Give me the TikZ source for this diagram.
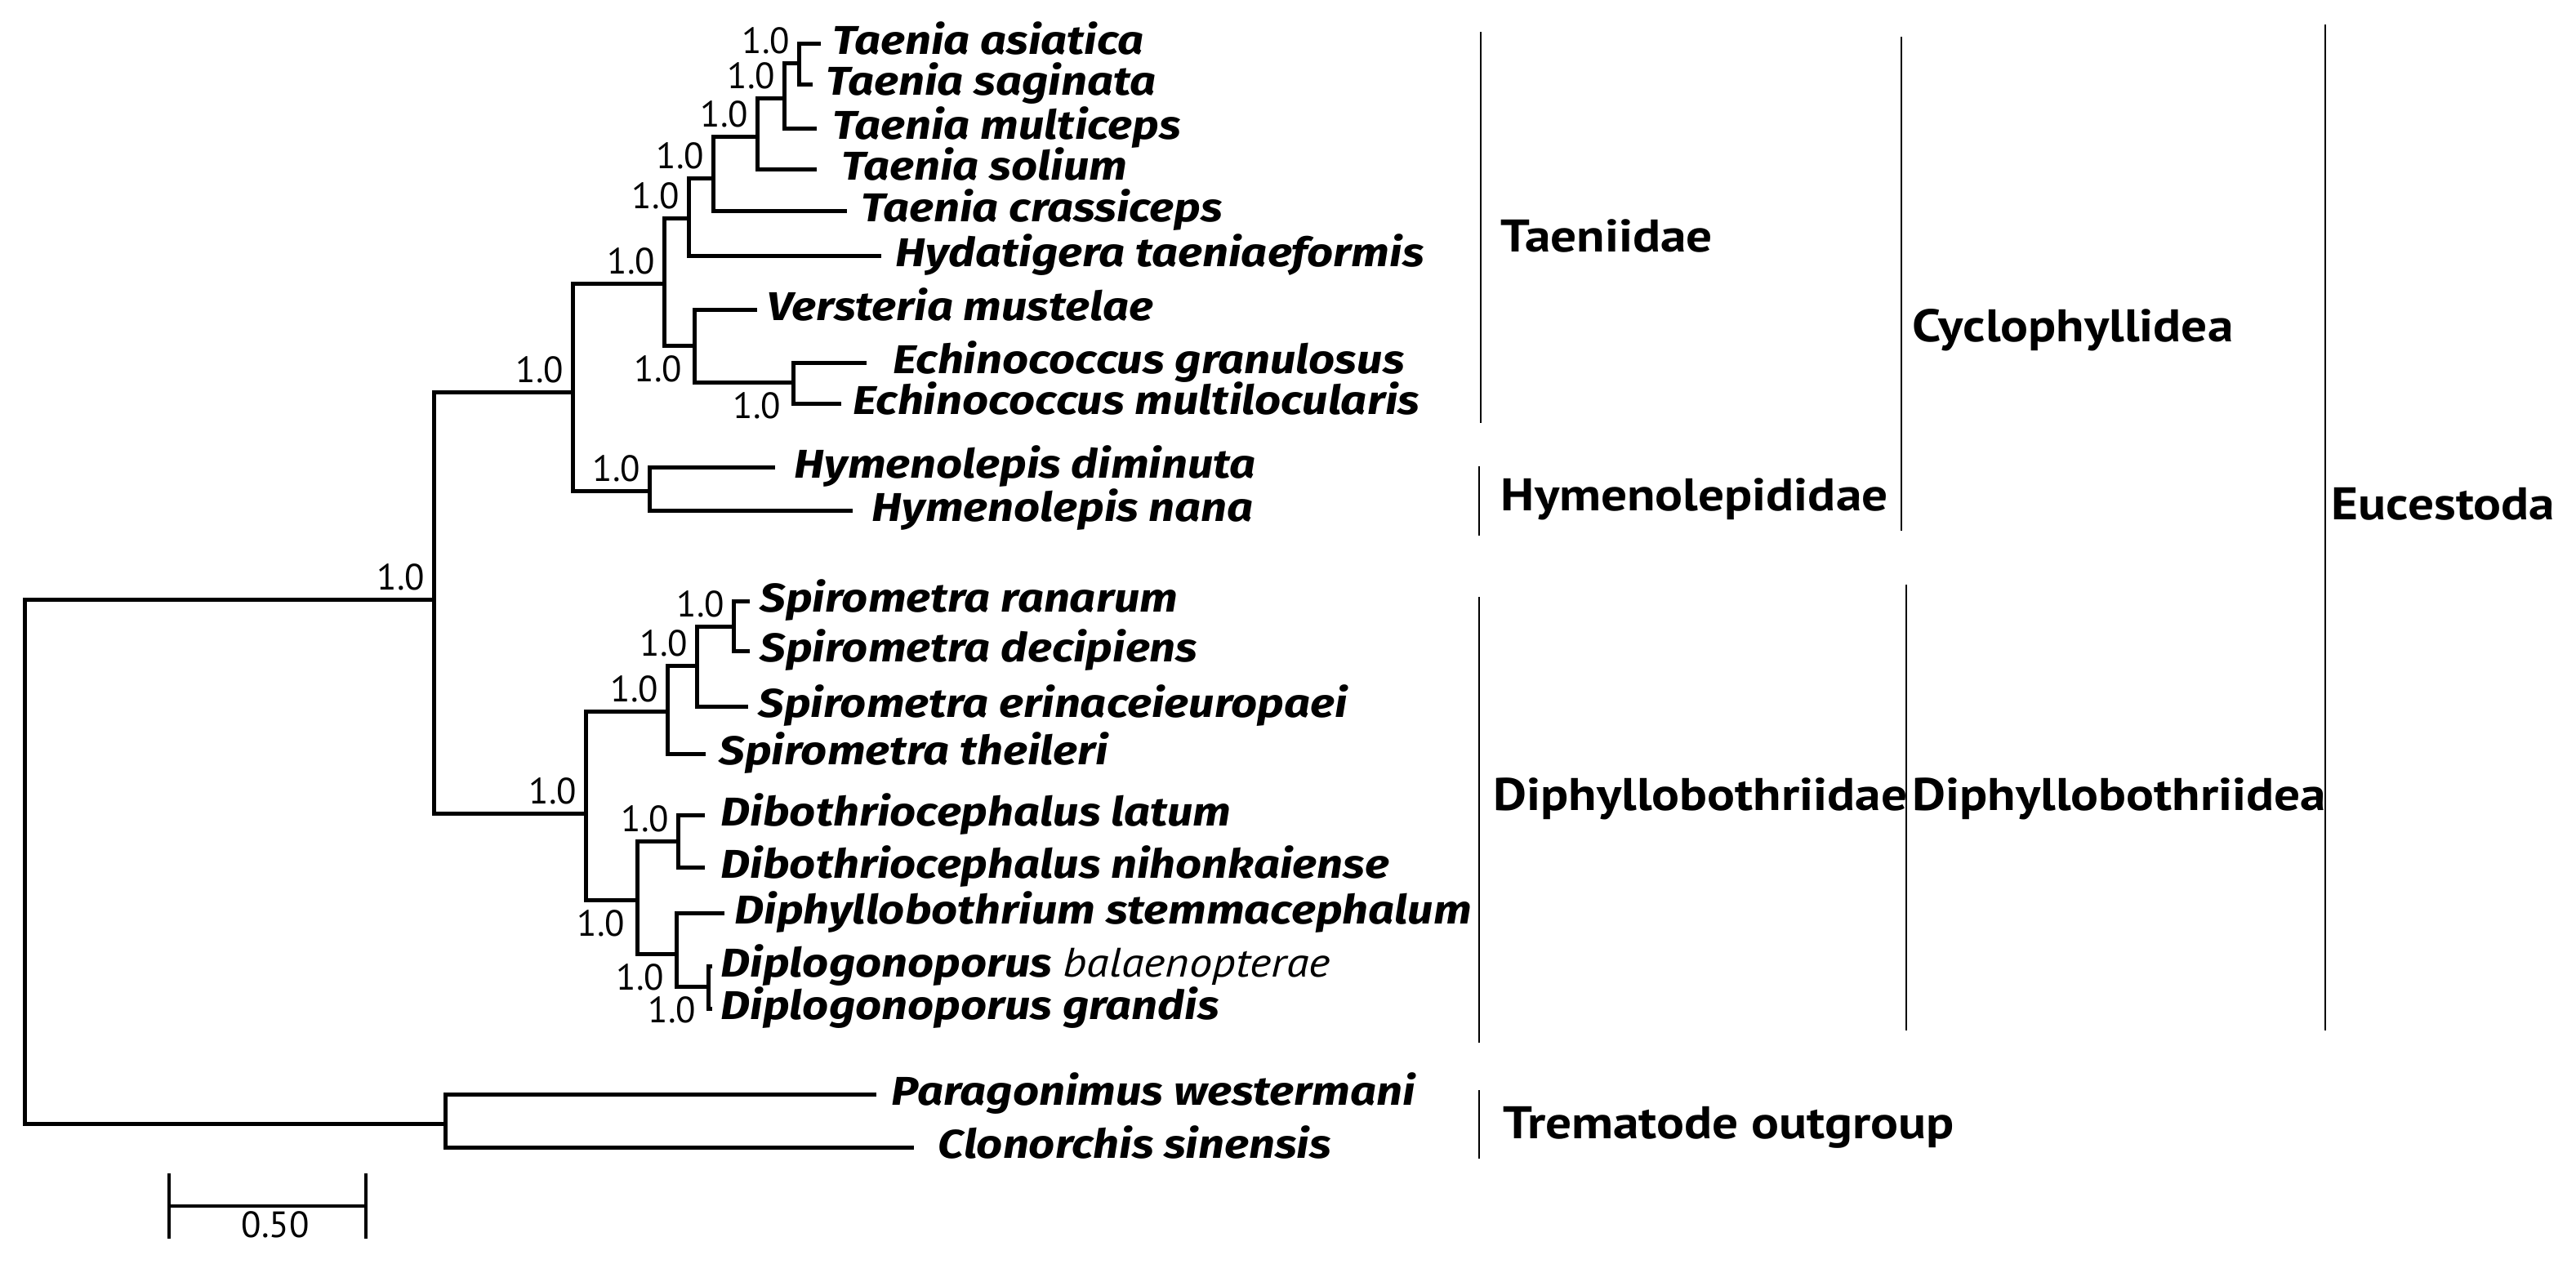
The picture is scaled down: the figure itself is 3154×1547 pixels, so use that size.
\documentclass[tikz,border=0pt]{standalone}
\usepackage{fontspec}
\setmainfont{PT Sans}
\newfontfamily\spfont[FakeStretch=1.14]{Fira Sans}
\newfontfamily\grpfont[FakeStretch=1.13]{PT Sans}
\newfontfamily\bpfont[FakeStretch=1.12]{PT Sans}
\begin{document}
\begin{tikzpicture}[x=0.25pt, y=-0.25pt, line join=miter,
		branch/.style={line width=1.25pt},
		bar/.style={line width=0.6pt},
		sp/.style={anchor=base west, inner sep=0pt, font=\spfont\bfseries\itshape\fontsize{12.3}{14}\selectfont},
		pp/.style={inner sep=0pt, font=\fontsize{11.2}{13}\selectfont},
		grp/.style={anchor=base west, inner sep=0pt, font=\grpfont\bfseries\fontsize{14}{16}\selectfont}]
	\useasboundingbox (0,0) rectangle (3154,1547);
	% leaves: tip x, y, text x, name
	\foreach \id/\tx/\ty/\lx/\name in {
		tasi/1005/53/1019/{Taenia asiatica},
		tsag/995/103/1011/{Taenia saginata},
		tmul/1000/157/1019/{Taenia multiceps},
		tsol/1000/207/1030/{Taenia solium},
		tcra/1037/258/1054/{Taenia crassiceps},
		htae/1079/313/1096/{Hydatigera taeniaeformis},
		vmus/927/379/939/{Versteria mustelae},
		egra/1061/444/1093/{Echinococcus granulosus},
		emul/1030/494/1044/{Echinococcus multilocularis},
		hdim/949/572/972/{Hymenolepis diminuta},
		hnan/1044/625/1067/{Hymenolepis nana},
		sran/918/736/930/{Spirometra ranarum},
		sdec/918/797/930/{Spirometra decipiens},
		seri/916/865/928/{Spirometra erinaceieuropaei},
		sthe/864/923/880/{Spirometra theileri},
		dlat/863/998/882/{Dibothriocephalus latum},
		dnih/863/1062/882/{Dibothriocephalus nihonkaiense},
		dste/887/1118/899/{Diphyllobothrium stemmacephalum},
		dbal/872/1183/882/{Diplogonoporus {\bpfont\mdseries\itshape\fontsize{12.6}{14}\selectfont balaenopterae}},
		dgra/872/1235/882/{Diplogonoporus grandis},
		pwes/1073/1340/1091/{Paragonimus westermani},
		csin/1119/1405/1148/{Clonorchis sinensis}}
	{
		\coordinate (\id) at (\tx,\ty);
		\node[sp] (\id-name) at (\lx,\ty+13) {\name};
	}
	% inner nodes
	\foreach \id/\nx/\ny in {root/30/1055, euc/531/734, trem/545/1376,
		cyc/701/480, tae/813/347, tah/843/267, tcr/873/218, tso/927/167,
		tmu/960/120, tas/978/77, vec/850/423, ech/971/468, hym/795/601,
		dip/717/996, spi/817/871, spe/853/815, spr/898/767,
		low/780/1102, dib/830/1030, dds/828/1168, dgp/867/1208}
		\coordinate (\id) at (\nx,\ny);
	% branches
	\foreach \p/\c in {root/euc, root/trem, euc/cyc, euc/dip,
		cyc/tae, cyc/hym, tae/tah, tae/vec, tah/tcr, tah/htae,
		tcr/tso, tcr/tcra, tso/tmu, tso/tsol, tmu/tas, tmu/tmul,
		tas/tasi, tas/tsag, vec/vmus, vec/ech, ech/egra, ech/emul,
		hym/hdim, hym/hnan, dip/spi, dip/low, spi/spe, spi/sthe,
		spe/spr, spe/seri, spr/sran, spr/sdec, low/dib, low/dds,
		dib/dlat, dib/dnih, dds/dste, dds/dgp, dgp/dbal, dgp/dgra,
		trem/pwes, trem/csin}
		\draw[branch] (\p) |- (\c);
	% support values
	\foreach \id in {euc, cyc, tae, tah, tcr, tso, tmu, tas, hym, dip, spi, spe, spr, dib}
		\node[pp, anchor=base east] (\id-pp) at ([shift={(-10,-12)}]\id) {1.0};
	\foreach \id in {vec, ech, low, dds, dgp}
		\node[pp, anchor=north east] (\id-pp) at ([shift={(-14,12)}]\id) {1.0};
	% groups
	\draw[bar] (1813,39) -- (1813,518);
	\node[grp] (taeniidae) at (1837,308) {Taeniidae};
	\draw[bar] (1811,571) -- (1811,656);
	\node[grp] (hymenolepididae) at (1837,625) {Hymenolepididae};
	\draw[bar] (1811,731) -- (1811,1277);
	\node[grp] (diphyllobothriidae) at (1828,992) {Diphyllobothriidae};
	\draw[bar] (1811,1335) -- (1811,1419);
	\node[grp] (trematoda) at (1840,1394) {Trematode outgroup};
	\draw[bar] (2328,45) -- (2328,650);
	\node[grp] (cyclophyllidea) at (2341,418) {Cyclophyllidea};
	\draw[bar] (2334,716) -- (2334,1262);
	\node[grp] (diphyllobothriidea) at (2341,992) {Diphyllobothriidea};
	\draw[bar] (2847,30) -- (2847,1262);
	\node[grp] (eucestoda) at (2854,636) {Eucestoda};
	% scale bar
	\coordinate (sbl) at (207,1477);
	\coordinate (sbr) at (448,1477);
	\draw[line width=0.8pt] (sbl) -- (sbr);
	\draw[line width=0.8pt] ([yshift=10]sbl) -- ([yshift=-10]sbl);
	\draw[line width=0.8pt] ([yshift=10]sbr) -- ([yshift=-10]sbr);
	\node[pp, anchor=base] (scale) at (337,1515) {0.50};
\end{tikzpicture}
\end{document}
